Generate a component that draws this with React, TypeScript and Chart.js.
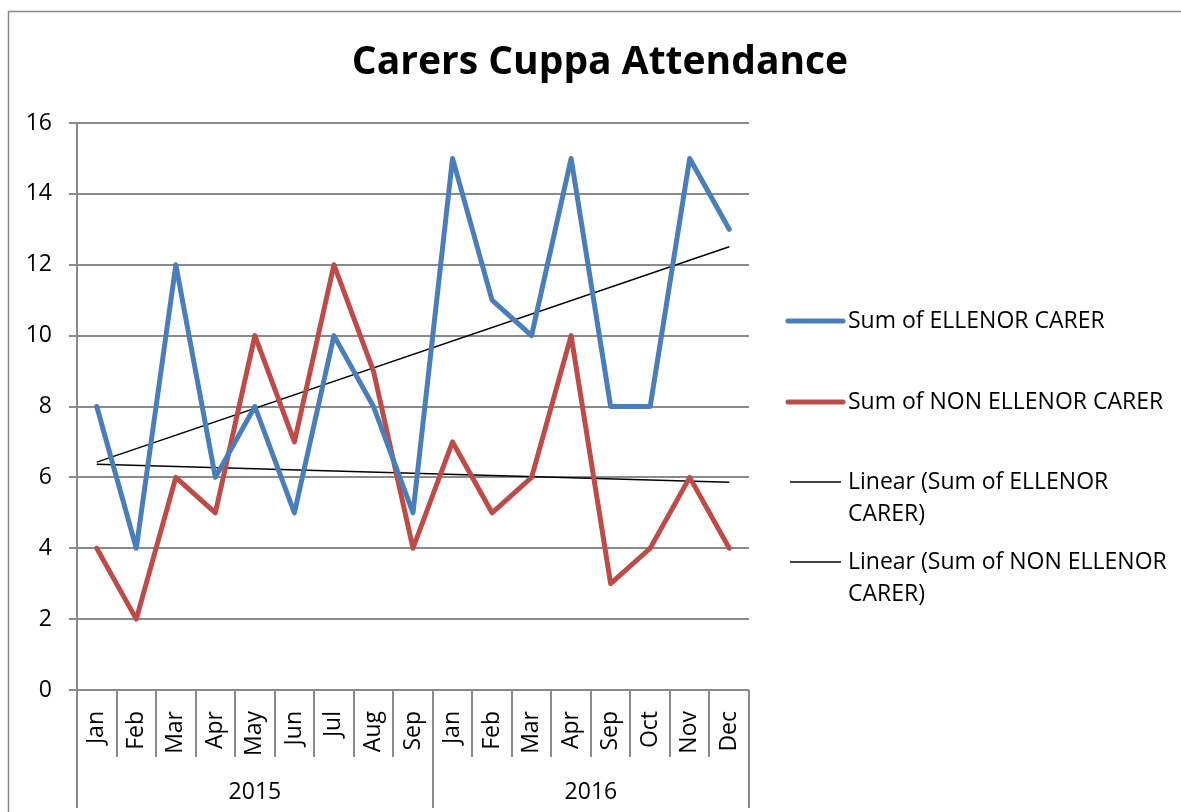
import React, { useEffect, useRef } from "react";
import { Chart, registerables } from "chart.js";

Chart.register(...registerables);

const TITLE = "Carers Cuppa Attendance";
const months = ["Jan", "Feb", "Mar", "Apr", "May", "Jun", "Jul", "Aug", "Sep", "Jan", "Feb", "Mar", "Apr", "Sep", "Oct", "Nov", "Dec"];
const years = ["2015", "2016"];
const monthsPerYear = [9, 8];
const ellenorCarer = [8, 4, 12, 6, 8, 5, 10, 8, 5, 15, 11, 10, 15, 8, 8, 15, 13];
const nonEllenorCarer = [4, 2, 6, 5, 10, 7, 12, 9, 4, 7, 5, 6, 10, 3, 4, 6, 4];
// trendline end values (first and last category)
const ellenorTrend = [6.43, null, null, null, null, null, null, null, null, null, null, null, null, null, null, null, 12.51];
const nonEllenorTrend = [6.37, null, null, null, null, null, null, null, null, null, null, null, null, null, null, null, 5.86];
const yTicks = [0, 2, 4, 6, 8, 10, 12, 14, 16];

const FONT = "'Open Sans', 'DejaVu Sans', sans-serif";
const FS = 23;
const GRID = "#8a8a8a";
const BLUE = "#4a7ebb";
const RED = "#be4b48";

const extrasPlugin = {
  id: "extras",
  beforeDraw(chart: any) {
    const ctx = chart.ctx;
    ctx.save();
    ctx.fillStyle = "#ffffff";
    ctx.fillRect(0, 0, chart.width, chart.height);
    ctx.strokeStyle = GRID;
    ctx.lineWidth = 1.5;
    ctx.strokeRect(8.5, 11.5, 2000, 2000);
    ctx.restore();
  },
  afterDraw(chart: any) {
    const ctx = chart.ctx;
    const xs = chart.scales.x;
    const area = chart.chartArea;
    const n = months.length;
    const half = (xs.getPixelForValue(1) - xs.getPixelForValue(0)) / 2;
    const boundary = (i: number) => (i < n ? xs.getPixelForValue(i) - half : xs.getPixelForValue(n - 1) + half);
    const groupStarts: number[] = [0];
    monthsPerYear.forEach((c, i) => groupStarts.push(groupStarts[i] + c));

    ctx.save();
    // title
    ctx.fillStyle = "#000";
    ctx.font = `bold 39px ${FONT}`;
    ctx.textAlign = "center";
    ctx.textBaseline = "middle";
    ctx.fillText(TITLE, 600, 63);

    ctx.strokeStyle = GRID;
    ctx.lineWidth = 2;
    for (let i = 0; i <= n; i++) {
      const isGroup = groupStarts.includes(i);
      const x = Math.round(boundary(i));
      ctx.beginPath();
      ctx.moveTo(x, area.bottom);
      ctx.lineTo(x, area.bottom + (isGroup ? 118 : 67));
      ctx.stroke();
    }
    ctx.beginPath();
    ctx.moveTo(area.left, area.bottom);
    ctx.lineTo(boundary(n), area.bottom);
    ctx.stroke();

    ctx.fillStyle = "#000";
    ctx.font = `${FS}px ${FONT}`;
    ctx.textAlign = "center";
    ctx.textBaseline = "middle";
    years.forEach((y, i) => {
      const cx = (boundary(groupStarts[i]) + boundary(groupStarts[i + 1])) / 2;
      ctx.fillText(y, cx, area.bottom + 102);
    });

    // legend
    const items = chart.data.datasets.map((d: any) => ({
      label: d.label,
      color: d.borderColor,
      width: d.borderWidth,
    }));
    const rowY = [321, 402, 482, 562];
    const lineX0 = 788;
    const lineX1 = 843;
    const textX = 848;
    const maxW = 326;
    ctx.textAlign = "left";
    items.forEach((it: any, i: number) => {
      const y = rowY[i];
      const thick = it.width > 2;
      ctx.beginPath();
      ctx.strokeStyle = it.color;
      ctx.lineWidth = it.width;
      ctx.lineCap = thick ? "round" : "butt";
      ctx.moveTo(lineX0 + (thick ? 0 : 2), y);
      ctx.lineTo(lineX1 - (thick ? 0 : 2), y);
      ctx.stroke();
      const words = it.label.split(" ");
      const lines: string[] = [];
      let cur = "";
      words.forEach((w: string) => {
        const t = cur ? cur + " " + w : w;
        if (ctx.measureText(t).width > maxW && cur) {
          lines.push(cur);
          cur = w;
        } else cur = t;
      });
      if (cur) lines.push(cur);
      ctx.fillStyle = "#000";
      lines.forEach((l, k) => ctx.fillText(l, textX, y + k * 32));
    });
    ctx.restore();
  },
};

export default function App() {
  const ref = useRef<HTMLCanvasElement | null>(null);
  useEffect(() => {
    if (!ref.current) return;
    const chart = new Chart(ref.current, {
      type: "line",
      data: {
        labels: months,
        datasets: [
          {
            label: "Sum of ELLENOR CARER",
            data: ellenorCarer,
            borderColor: BLUE,
            borderWidth: 5,
            pointRadius: 0,
            borderJoinStyle: "round",
            borderCapStyle: "round",
            tension: 0,
          },
          {
            label: "Sum of NON ELLENOR CARER",
            data: nonEllenorCarer,
            borderColor: RED,
            borderWidth: 5,
            pointRadius: 0,
            borderJoinStyle: "round",
            borderCapStyle: "round",
            tension: 0,
          },
          {
            label: "Linear (Sum of ELLENOR CARER)",
            data: ellenorTrend,
            borderColor: "#000000",
            borderWidth: 1.5,
            pointRadius: 0,
            spanGaps: true,
          },
          {
            label: "Linear (Sum of NON ELLENOR CARER)",
            data: nonEllenorTrend,
            borderColor: "#000000",
            borderWidth: 1.5,
            pointRadius: 0,
            spanGaps: true,
          },
        ],
      },
      options: {
        responsive: false,
        animation: false,
        devicePixelRatio: 1,
        layout: { padding: { left: 0, right: 432, top: 123, bottom: 0 } },
        plugins: {
          legend: { display: false },
          tooltip: { enabled: false },
          title: { display: false },
        },
        scales: {
          x: {
            type: "category",
            offset: true,
            grid: { display: false },
            border: { display: false },
            ticks: {
              autoSkip: false,
              minRotation: 90,
              maxRotation: 90,
              padding: 13,
              color: "#000",
              font: { family: FONT, size: FS },
            },
            afterFit: (s: any) => {
              s.height = 122;
            },
          },
          y: {
            min: 0,
            max: 16,
            afterBuildTicks: (s: any) => {
              s.ticks = yTicks.map((v) => ({ value: v }));
            },
            grid: { color: GRID, lineWidth: 2, tickLength: 8 },
            border: { display: true, color: GRID, width: 2 },
            ticks: {
              padding: 17,
              color: "#000",
              font: { family: FONT, size: FS },
            },
            afterFit: (s: any) => {
              s.width = 77;
            },
          },
        },
      },
      plugins: [extrasPlugin],
    });
    return () => chart.destroy();
  }, []);
  return (
    <div style={{ position: "absolute", left: 0, top: 0, width: 1181, height: 812 }}>
      <canvas ref={ref} width={1181} height={812} />
    </div>
  );
}
